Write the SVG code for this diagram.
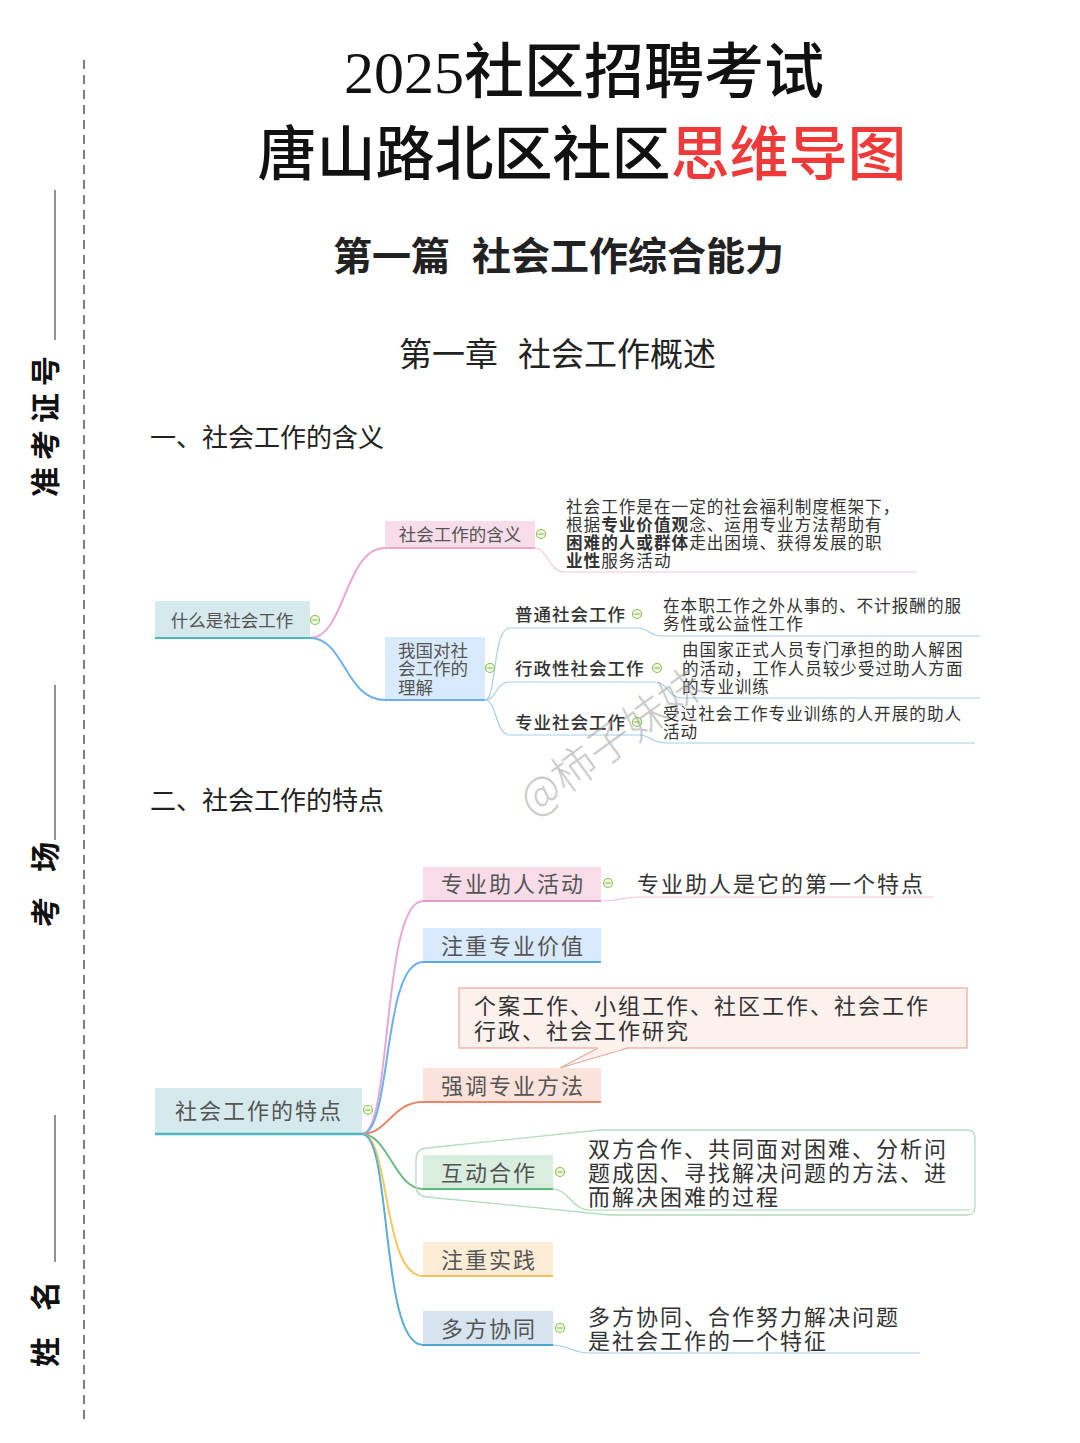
<svg xmlns="http://www.w3.org/2000/svg" width="1080" height="1443" viewBox="0 0 1080 1443">
<style>
.serif{font-family:"Liberation Serif","Noto Sans CJK SC",serif;}
.sans{font-family:"Noto Sans CJK SC","Noto Sans",sans-serif;}
.side{font-family:"Liberation Serif","Noto Sans CJK SC",serif;font-size:30px;font-weight:700;fill:#111;}
.n1{font-family:"Noto Sans CJK SC",sans-serif;font-size:17.5px;fill:#555;}
.s1{font-family:"Noto Sans CJK SC",sans-serif;font-size:17.5px;letter-spacing:1px;fill:#333;font-weight:500;}
.d1{font-family:"Noto Sans CJK SC",sans-serif;font-size:16.6px;letter-spacing:1px;fill:#333;}
.n2{font-family:"Noto Sans CJK SC",sans-serif;font-size:22px;letter-spacing:2px;fill:#555;}
.d2{font-family:"Noto Sans CJK SC",sans-serif;font-size:22px;letter-spacing:2px;fill:#333;}
.b{font-weight:700;}
.con{fill:none;stroke-width:2;stroke-linecap:round;}
.thin{fill:none;stroke-width:1.2;}
</style>
<defs>
<g id="col">
<circle cx="0" cy="0" r="4.5" fill="#eef7e3" stroke="#8cc152" stroke-width="1.2"/>
<line x1="-2.5" y1="0" x2="2.5" y2="0" stroke="#8cc152" stroke-width="1.2"/>
</g>
</defs>
<rect width="1080" height="1443" fill="#ffffff"/>

<!-- side margin -->
<g id="margin">
<line x1="84" y1="60" x2="84" y2="1420" stroke="#555" stroke-width="1.5" stroke-dasharray="9 6"/>
<line x1="55" y1="190" x2="55" y2="340" stroke="#222" stroke-width="1"/>
<line x1="55" y1="685" x2="55" y2="840" stroke="#222" stroke-width="1"/>
<line x1="55" y1="1115" x2="55" y2="1262" stroke="#222" stroke-width="1"/>
<text class="side" transform="translate(56,497) rotate(-90)" letter-spacing="7">准考证号</text>
<text class="side" transform="translate(56,927) rotate(-90)">考</text>
<text class="side" transform="translate(56,872) rotate(-90)">场</text>
<text class="side" transform="translate(56,1367) rotate(-90)">姓</text>
<text class="side" transform="translate(56,1311) rotate(-90)">名</text>
</g>

<!-- titles -->
<g id="titles">
<text class="serif" x="584" y="93" font-size="60" font-weight="500" text-anchor="middle" fill="#111">2025社区招聘考试</text>
<text class="serif" x="582" y="175" font-size="59" font-weight="500" text-anchor="middle" fill="#111">唐山路北区社区<tspan fill="#f03a3a">思维导图</tspan></text>
<text class="sans" x="333" y="270" font-size="39" font-weight="700" fill="#222">第一篇</text>
<text class="sans" x="472" y="270" font-size="39" font-weight="700" fill="#222">社会工作综合能力</text>
<text class="sans" x="399" y="366" font-size="33" fill="#222">第一章</text>
<text class="sans" x="518" y="366" font-size="33" fill="#222">社会工作概述</text>
<text class="sans" x="150" y="447" font-size="26" fill="#222">一、社会工作的含义</text>
<text class="sans" x="150" y="810" font-size="26" fill="#222">二、社会工作的特点</text>
</g>

<!-- connectors -->
<g id="connectors">
<path class="con" d="M310,638 C345,638 345,548 385,548" stroke="#e8a8d2" stroke-width="1.6"/>
<path class="con" d="M310,638 C345,638 345,700 385,700" stroke="#6cb0ee" stroke-width="1.6"/>
<path class="thin" d="M535,548 C548,548 548,572 565,572 L917,572" stroke="#f0c6dc"/>
<path class="thin" d="M485,700 C497,700 492,628 510,628 L638,628 C648,628 650,636 662,636 L980,636" stroke="#a3cdee"/>
<path class="thin" d="M485,700 C497,700 495,682 510,682 L655,682 C668,682 668,698 682,698 L980,698" stroke="#a3cdee"/>
<path class="thin" d="M485,700 C497,700 495,735 510,735 L640,735 C650,735 652,743 665,743 L975,743" stroke="#a3cdee"/>

<path class="con" d="M362,1134 C392,1134 382,901 423,901" stroke="#e8a8d2"/>
<path class="con" d="M362,1134 C392,1134 382,962 423,962" stroke="#6cb0ee"/>
<path class="con" d="M362,1134 C388,1134 392,1102 423,1102" stroke="#e9876e"/>
<path class="con" d="M362,1134 C388,1134 395,1189 423,1189" stroke="#6cb985"/>
<path class="con" d="M362,1134 C390,1134 382,1276 423,1276" stroke="#f7c65c"/>
<path class="con" d="M362,1134 C392,1134 380,1345 423,1345" stroke="#5aaed4"/>
<path class="thin" d="M601,901 C618,901 622,897 640,897 L933,897" stroke="#f0c6dc"/>
<path class="thin" d="M553,1189 C568,1189 572,1210 590,1210 L970,1210" stroke="#a8d8b5"/>
<path class="thin" d="M553,1345 C568,1345 572,1353 590,1353 L920,1353" stroke="#a3cdee"/>
</g>

<!-- mind map 1 -->
<g id="node-root1">
<rect x="155" y="601" width="155" height="37" fill="#d6e9ec"/>
<line x1="155" y1="638" x2="310" y2="638" stroke="#4db6bd" stroke-width="2"/>
<text class="n1" x="232" y="627" text-anchor="middle">什么是社会工作</text>
<use href="#col" x="315" y="620"/>
</g>
<g id="node-hanyi">
<rect x="385" y="521" width="150" height="27" fill="#f8dde9"/>
<line x1="385" y1="548" x2="535" y2="548" stroke="#e8a8d2" stroke-width="2"/>
<text class="n1" x="460" y="541" text-anchor="middle">社会工作的含义</text>
<use href="#col" x="541" y="534"/>
</g>
<g id="node-hanyi-detail">
<text class="d1" x="566" y="513">社会工作是在一定的社会福利制度框架下，</text>
<text class="d1" x="566" y="531">根据<tspan class="b">专业价值观</tspan>念、运用专业方法帮助有</text>
<text class="d1" x="566" y="549"><tspan class="b">困难的人或群体</tspan>走出困境、获得发展的职</text>
<text class="d1" x="566" y="567"><tspan class="b">业性</tspan>服务活动</text>
</g>
<g id="node-lijie">
<rect x="385" y="637" width="100" height="63" fill="#d8eafb"/>
<line x1="385" y1="700" x2="485" y2="700" stroke="#6cb0ee" stroke-width="2"/>
<text class="n1" x="398" y="657">我国对社</text>
<text class="n1" x="398" y="675">会工作的</text>
<text class="n1" x="398" y="694">理解</text>
<use href="#col" x="490" y="668"/>
</g>
<g id="node-putong">
<text class="s1" x="515" y="621">普通社会工作</text>
<use href="#col" x="637" y="614"/>
<text class="d1" x="663" y="612">在本职工作之外从事的、不计报酬的服</text>
<text class="d1" x="663" y="630">务性或公益性工作</text>
</g>
<g id="node-xingzheng">
<text class="s1" x="515" y="675">行政性社会工作</text>
<use href="#col" x="657" y="668"/>
<text class="d1" x="682" y="656">由国家正式人员专门承担的助人解困</text>
<text class="d1" x="682" y="675">的活动，工作人员较少受过助人方面</text>
<text class="d1" x="682" y="693">的专业训练</text>
</g>
<g id="node-zhuanye">
<text class="s1" x="515" y="729">专业社会工作</text>
<use href="#col" x="637" y="722"/>
<text class="d1" x="663" y="720">受过社会工作专业训练的人开展的助人</text>
<text class="d1" x="663" y="738">活动</text>
</g>

<!-- mind map 2 -->
<g id="node-root2">
<rect x="155" y="1088" width="207" height="46" fill="#d6e9ec"/>
<line x1="155" y1="1134" x2="362" y2="1134" stroke="#4db6bd" stroke-width="2.5"/>
<text class="n2" x="259" y="1119" text-anchor="middle">社会工作的特点</text>
<use href="#col" x="368" y="1110"/>
</g>
<g id="node-zhurenhuodong">
<rect x="423" y="867" width="178" height="34" fill="#f8dde9"/>
<line x1="423" y1="901" x2="601" y2="901" stroke="#e39ad0" stroke-width="2"/>
<text class="n2" x="513" y="892" text-anchor="middle">专业助人活动</text>
<use href="#col" x="608" y="883"/>
<text class="d2" x="637" y="892">专业助人是它的第一个特点</text>
</g>
<g id="node-jiazhi">
<rect x="423" y="928" width="178" height="34" fill="#d8eafb"/>
<line x1="423" y1="962" x2="601" y2="962" stroke="#5aa8ea" stroke-width="2"/>
<text class="n2" x="513" y="954" text-anchor="middle">注重专业价值</text>
</g>
<g id="node-callout">
<rect x="459" y="988" width="508" height="60" fill="#fdf1ee" stroke="#e8a898" stroke-width="1.2"/>
<polygon points="598,1047 628,1047 560,1068" fill="#fdf1ee"/>
<polyline points="598,1048 560,1068 628,1048" fill="none" stroke="#e8a898" stroke-width="1.2"/>
<text class="d2" x="474" y="1014">个案工作、小组工作、社区工作、社会工作</text>
<text class="d2" x="474" y="1039">行政、社会工作研究</text>
</g>
<g id="node-fangfa">
<rect x="423" y="1068" width="178" height="34" fill="#fbe2da"/>
<line x1="423" y1="1102" x2="601" y2="1102" stroke="#e9876e" stroke-width="2"/>
<text class="n2" x="513" y="1094" text-anchor="middle">强调专业方法</text>
</g>
<g id="node-hudong">
<path d="M427,1148 L600,1130 L967,1130 Q975,1130 975,1138 L975,1207 Q975,1215 967,1215 L610,1215 L427,1197 Q416,1196 416,1186 L416,1159 Q416,1149 427,1148 Z" fill="none" stroke="#b5dcc0" stroke-width="1.3"/>
<rect x="423" y="1155" width="130" height="34" fill="#d9eede"/>
<line x1="423" y1="1189" x2="553" y2="1189" stroke="#5fb777" stroke-width="2"/>
<text class="n2" x="489" y="1181" text-anchor="middle" fill="#333">互动合作</text>
<use href="#col" x="560" y="1172"/>
<text class="d2" x="588" y="1157">双方合作、共同面对困难、分析问</text>
<text class="d2" x="588" y="1181">题成因、寻找解决问题的方法、进</text>
<text class="d2" x="588" y="1205">而解决困难的过程</text>
</g>
<g id="node-shijian">
<rect x="423" y="1242" width="130" height="34" fill="#fdedd6"/>
<line x1="423" y1="1276" x2="553" y2="1276" stroke="#f5c05a" stroke-width="2"/>
<text class="n2" x="489" y="1268" text-anchor="middle">注重实践</text>
</g>
<g id="node-xietong">
<rect x="423" y="1311" width="130" height="34" fill="#d6e4f0"/>
<line x1="423" y1="1345" x2="553" y2="1345" stroke="#4aa3d0" stroke-width="2"/>
<text class="n2" x="489" y="1337" text-anchor="middle" fill="#333">多方协同</text>
<use href="#col" x="560" y="1328"/>
<text class="d2" x="588" y="1325">多方协同、合作努力解决问题</text>
<text class="d2" x="588" y="1349">是社会工作的一个特征</text>
</g>

<text class="sans" transform="translate(533,818) rotate(-36)" font-size="44" font-weight="300" fill="#999" opacity="0.5">@柿子妹妹</text>
</svg>
